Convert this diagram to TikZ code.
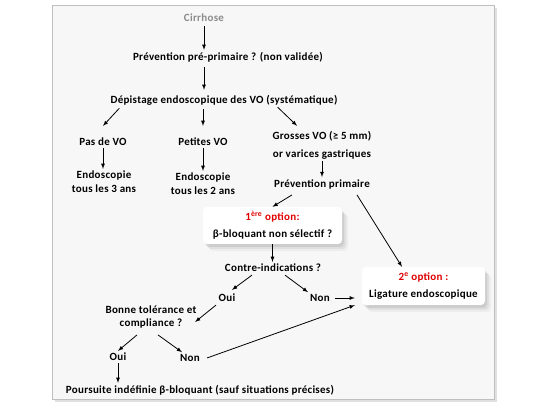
\documentclass[tikz,border=0pt]{standalone}
\usepackage{fontspec}
\setmainfont{Carlito}[LetterSpace=2.5]
\usetikzlibrary{shadows}
\definecolor{optred}{RGB}{225,0,0}

\begin{document}
\begin{tikzpicture}[x=1pt,y=-1pt,>=latex,
    stage/.style ={font=\fontsize{11}{14}\selectfont\bfseries, inner sep=2pt, align=center},
    optionbox/.style ={stage, rounded corners=4pt, fill=white, minimum width=139pt, minimum height=37pt,
      drop shadow={shadow xshift=6pt, shadow yshift=-7pt, opacity=0.08},
      drop shadow={shadow xshift=4pt, shadow yshift=-5pt, opacity=0.12},
      drop shadow={shadow xshift=2pt, shadow yshift=-3pt, opacity=0.18}},
    flow/.style ={thick, ->}]
   \useasboundingbox (0,0) rectangle (533,403);
   \draw[black!12, line width=1.5pt] (496,8) -- (496,401) -- (55,401);
   \draw[black!25, fill=black!3] (52,5) rectangle (494,399);

   \node[stage, text=black!45] (cir)  at (204,18)  {Cirrhose};
   \node[stage] (prev)  at (228,57)  {Prévention pré-primaire ? (non validée)};
   \node[stage] (dep)  at (224,100)  {Dépistage endoscopique des VO (systématique)};
   \node[stage] (pas)  at (103,142)  {Pas de VO};
   \node[stage] (pet)  at (203,142)  {Petites VO};
   \node[stage] (gro)  at (322,145)  {Grosses VO (≥ 5 mm)\\[4pt]or varices gastriques};
   \node[stage] (endo3)  at (104,182)  {Endoscopie\\tous les 3 ans};
   \node[stage] (endo2)  at (203,184)  {Endoscopie\\tous les 2 ans};
   \node[stage] (pp)  at (322,184)  {Prévention primaire};
   \node[optionbox] (opt1)  at (272.5,225.5)  {\textcolor{optred}{1\textsuperscript{ère} option:}\\[3pt]β-bloquant non sélectif ?};
   \node[stage] (ci)  at (273,268)  {Contre-indications ?};
   \node[stage] (oui1)  at (227,298)  {Oui};
   \node[stage] (non1)  at (320,298)  {Non};
   \node[optionbox, minimum width=123pt, minimum height=38pt] (opt2)  at (423.5,286)  {\textcolor{optred}{2\textsuperscript{e} option :}\\[3pt]Ligature endoscopique};
   \node[stage] (bon)  at (151,317.5)  {Bonne tolérance et\\[-1pt]compliance ?};
   \node[stage] (oui2)  at (118,357)  {Oui};
   \node[stage] (non2)  at (190,358)  {Non};
   \node[stage] (pour)  at (200,390)  {Poursuite indéfinie β-bloquant (sauf situations précises)};

   \draw[flow] ([yshift=-2pt]cir.south) to  (cir.south |- prev.north);
   \draw[flow] ([yshift=-3pt]prev.south -| cir) to  ([yshift=3pt]dep.north -| cir);
   \draw[flow] ([xshift=11pt,yshift=-1pt]dep.south west) to  ([yshift=10pt]pas.north);
   \draw[flow] ([yshift=-2pt]dep.south -| pet) to  ([yshift=10pt]pet.north);
   \draw[flow] ([xshift=-62pt]dep.south east) to  ([xshift=-25pt,yshift=3pt]gro.north);
   \draw[flow] (pas.south) to  (pas.south |- endo3.north);
   \draw[flow] (pet.south) to  (pet.south |- endo2.north);
   \draw[flow] (gro.south) to  (gro.south |- pp.north);
   \draw[flow] ([xshift=-30pt,yshift=-4pt]pp.south) to  (opt1.north);
   \draw[flow] ([xshift=35pt,yshift=-4pt]pp.south) to  ([xshift=-21.5pt]opt2.north);
   \draw[flow] (opt1.south) to  (opt1.south |- ci.north);
   \draw[flow] ([xshift=-21pt,yshift=-1pt]ci.south) to  ([xshift=5pt,yshift=2pt]oui1.north);
   \draw[flow] ([xshift=12pt,yshift=-1pt]ci.south) to  ([xshift=-12pt]non1.north);
   \draw[flow] ([xshift=3pt]non1.east) to  ([xshift=-7pt]opt2.west |- non1);
   \draw[flow] ([xshift=-11pt,yshift=-1pt]oui1.south) to  ([xshift=-3.5pt,yshift=-4.5pt]bon.east);
   \draw[flow] ([xshift=-14pt,yshift=-4pt]bon.south) to  (oui2.north);
   \draw[flow] ([xshift=7pt,yshift=-4pt]bon.south) to  ([xshift=-8pt]non2.north);
   \draw[flow] ([xshift=5pt]non2.east) to  ([xshift=-7pt]opt2.south west);
   \draw[flow] (oui2.south) to  (oui2.south |- pour.north);
\end{tikzpicture}
\end{document}
